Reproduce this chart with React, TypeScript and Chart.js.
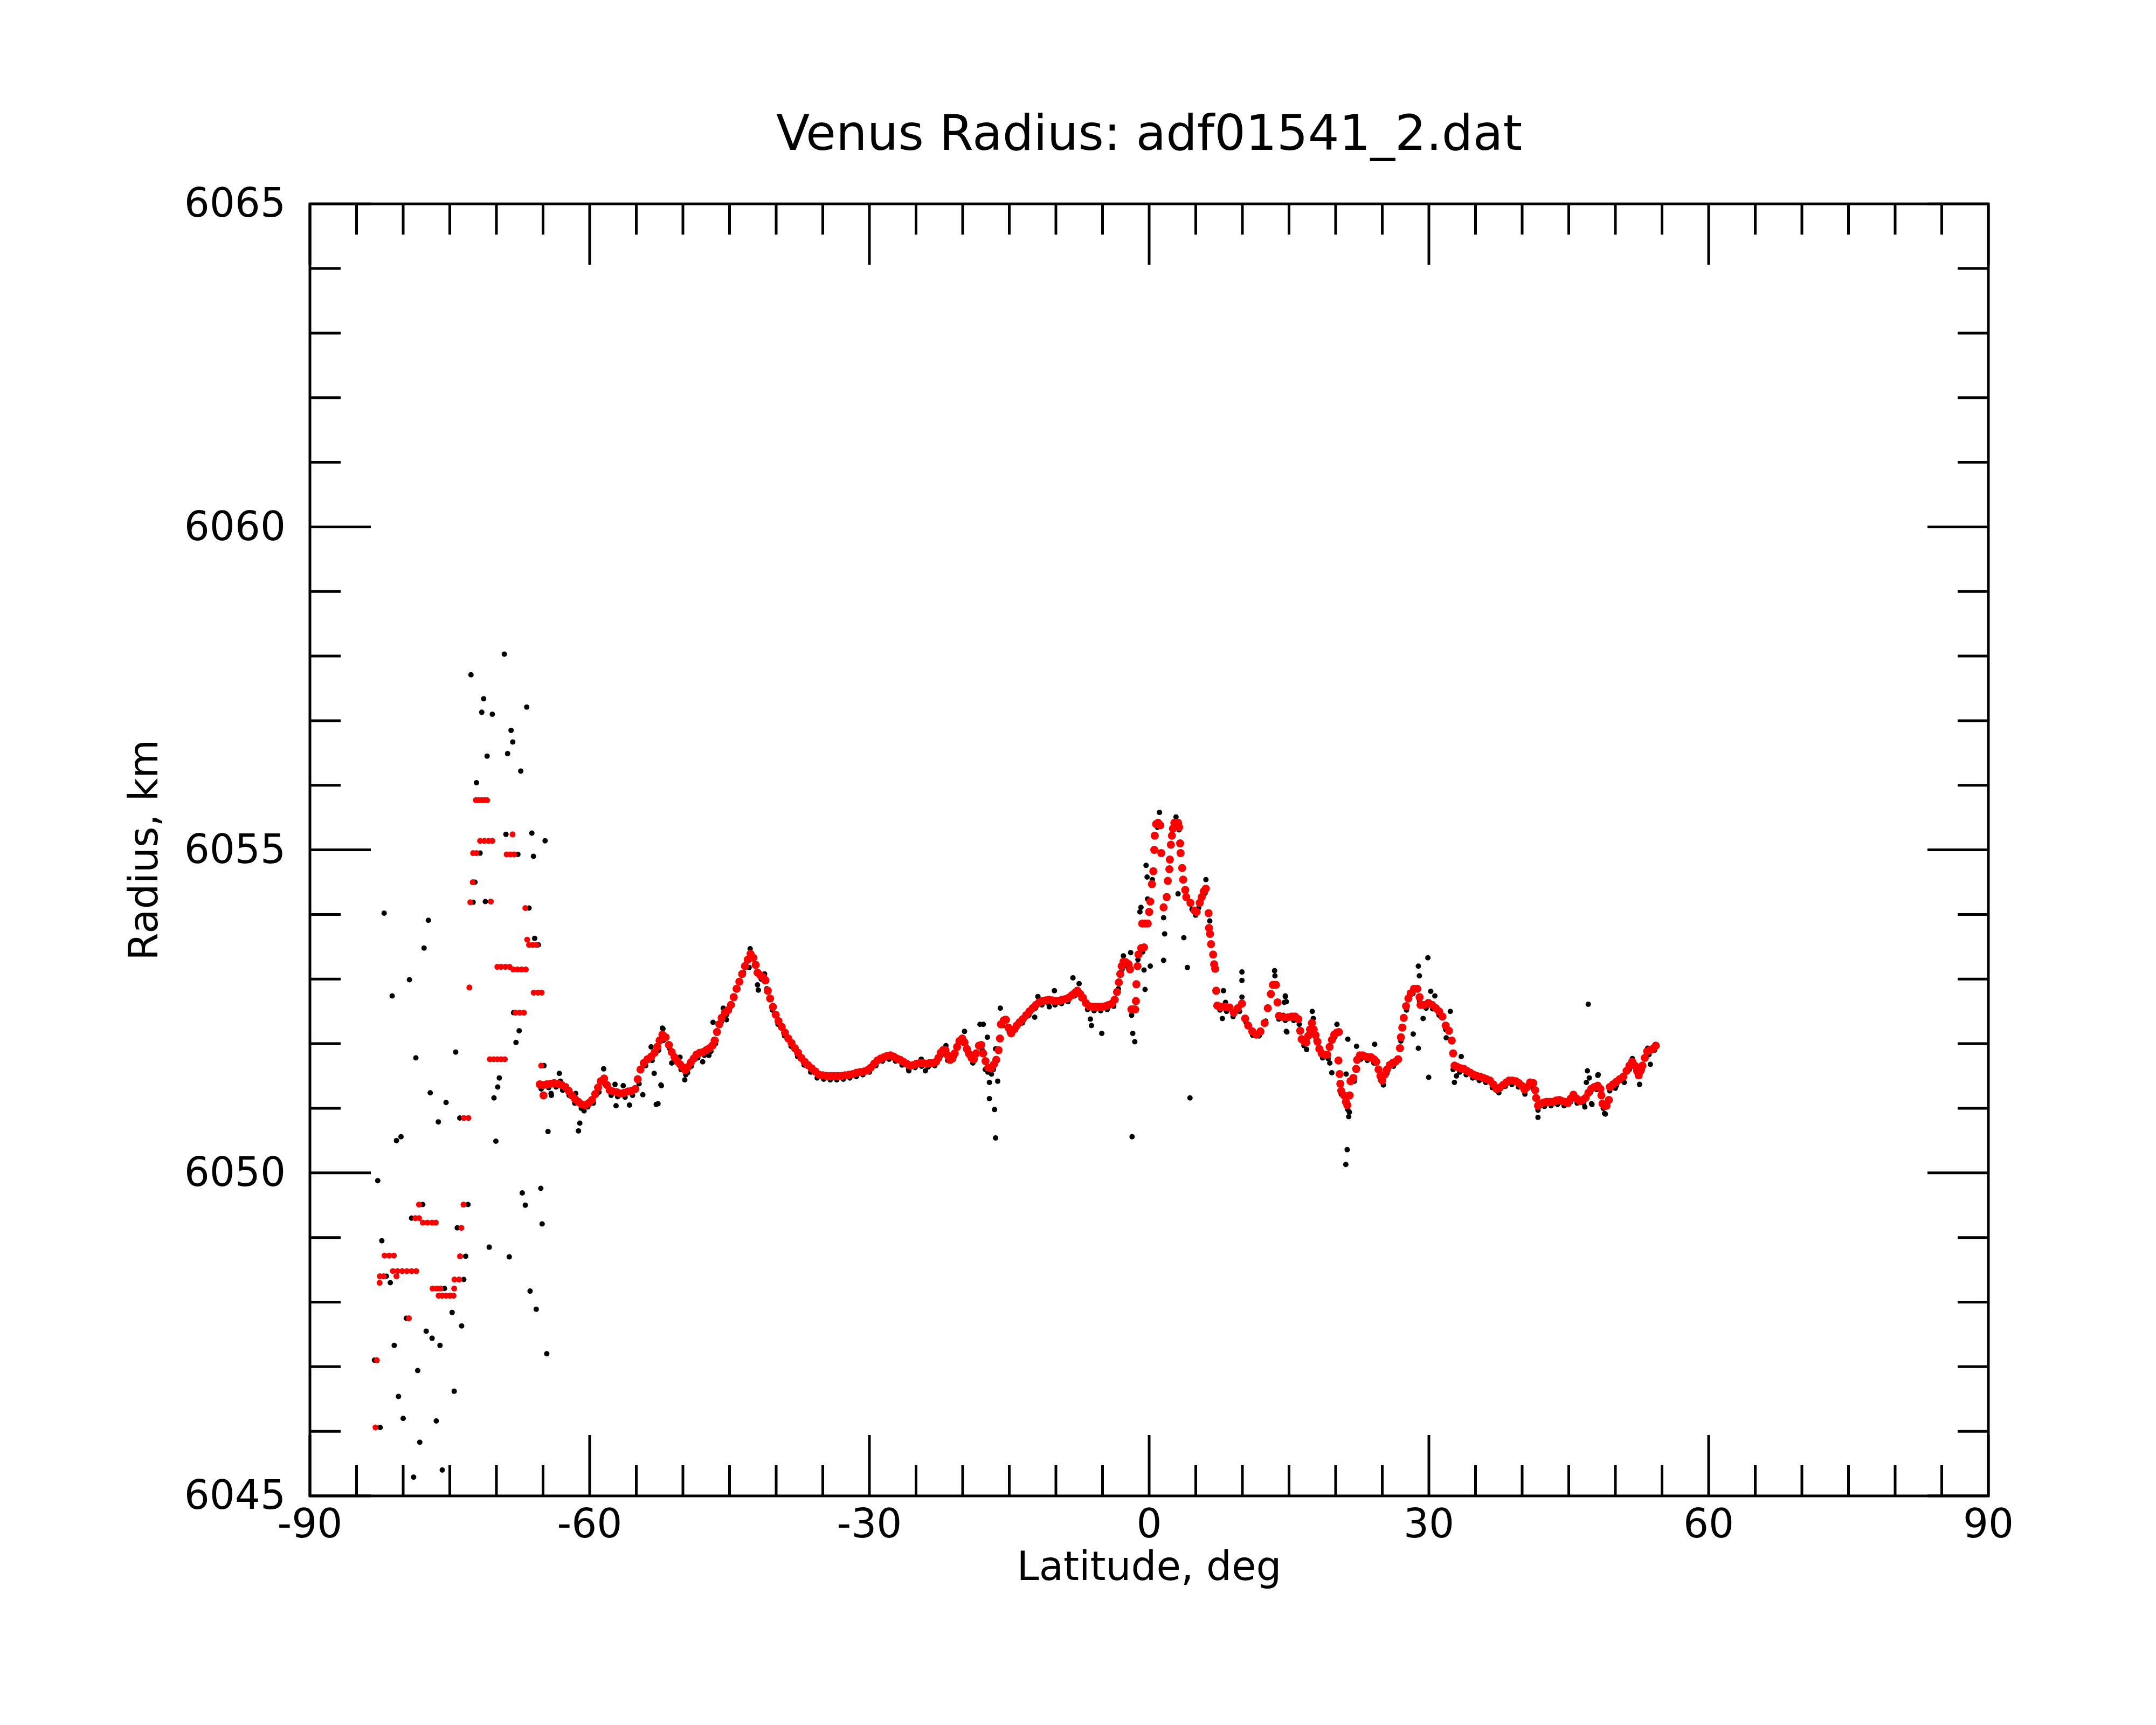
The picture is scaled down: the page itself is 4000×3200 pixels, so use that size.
import { useEffect, useRef } from "react";
import { Chart, registerables } from "chart.js";

Chart.register(...registerables);

const FONT = "DejaVu Sans";
const TITLE = "Venus Radius: adf01541_2.dat";
const X_LABEL = "Latitude, deg";
const Y_LABEL = "Radius, km";

const xTickValues = [-90, -60, -30, 0, 30, 60, 90];
const yTickValues = [6045, 6050, 6055, 6060, 6065];
const xMinorStep = 5;
const yMinorStep = 1;

// smoothed radius (red) — south polar scatter
const smoothPolar: [number, number][] = [
    [-72.2, 6055.77], [-71.9, 6055.77], [-71.6, 6055.77], [-71.3, 6055.77], [-71.0, 6055.77],
    [-68.27, 6055.24],
    [-71.75, 6055.14], [-71.3, 6055.14], [-70.85, 6055.14], [-70.45, 6055.14],
    [-72.5, 6054.95], [-72.15, 6054.95],
    [-68.9, 6054.93], [-68.5, 6054.93], [-68.1, 6054.93],
    [-72.54, 6054.5], [-72.8, 6054.19], [-70.6, 6054.2], [-66.9, 6054.1], [-66.7, 6053.61],
    [-66.5, 6053.53], [-66.1, 6053.53], [-65.7, 6053.53],
    [-69.9, 6053.19], [-69.5, 6053.19], [-69.05, 6053.19], [-68.6, 6053.19],
    [-68.2, 6053.15], [-67.75, 6053.15], [-67.3, 6053.15], [-66.85, 6053.15],
    [-72.9, 6052.87],
    [-66.0, 6052.79], [-65.55, 6052.79], [-65.15, 6052.79],
    [-67.95, 6052.48], [-67.5, 6052.48], [-67.05, 6052.48],
    [-70.7, 6051.76], [-70.3, 6051.76], [-69.9, 6051.76], [-69.5, 6051.76], [-69.1, 6051.76],
    [-65.2, 6051.66],
    [-73.5, 6050.85], [-73.0, 6050.85],
    [-78.3, 6049.51], [-73.53, 6049.51],
    [-78.7, 6049.3], [-78.3, 6049.3],
    [-77.9, 6049.23], [-77.4, 6049.23], [-76.9, 6049.23], [-76.5, 6049.23],
    [-73.76, 6049.15],
    [-82.0, 6048.72], [-81.5, 6048.72], [-81.0, 6048.72],
    [-73.9, 6048.71],
    [-81.1, 6048.48], [-80.6, 6048.48], [-80.1, 6048.48], [-79.6, 6048.48], [-79.1, 6048.48], [-78.6, 6048.48],
    [-82.5, 6048.4], [-82.1, 6048.4], [-80.72, 6048.4], [-82.53, 6048.3],
    [-74.5, 6048.35], [-74.0, 6048.35],
    [-76.85, 6048.21], [-76.4, 6048.21], [-76.0, 6048.21], [-74.53, 6048.21],
    [-76.2, 6048.1], [-75.8, 6048.1], [-75.4, 6048.1], [-75.0, 6048.1], [-74.6, 6048.1],
    [-79.39, 6047.75], [-82.82, 6047.1], [-82.97, 6046.06],
];

// smoothed radius (red) — southern mid latitudes
const smoothSouth: [number, number][] = [
    [-65.35, 6051.37], [-65.0, 6051.36], [-64.95, 6051.2], [-64.6, 6051.37], [-64.2, 6051.38], [-63.8, 6051.39],
    [-63.4, 6051.38], [-63.0, 6051.36], [-62.6, 6051.33], [-62.25, 6051.27], [-61.9, 6051.2],
    [-61.55, 6051.14], [-61.2, 6051.1], [-60.85, 6051.06], [-60.5, 6051.05], [-60.1, 6051.08],
    [-59.75, 6051.13], [-59.4, 6051.22], [-59.1, 6051.32], [-58.8, 6051.42], [-58.45, 6051.46],
    [-58.15, 6051.36], [-57.85, 6051.28], [-57.5, 6051.26], [-57.1, 6051.25], [-56.7, 6051.23],
    [-56.3, 6051.24], [-55.9, 6051.26], [-55.5, 6051.27], [-55.1, 6051.3], [-54.85, 6051.45],
    [-54.55, 6051.6], [-54.2, 6051.7], [-53.8, 6051.76], [-53.4, 6051.8], [-53.05, 6051.86],
    [-52.75, 6051.95], [-52.5, 6052.05], [-52.2, 6052.14], [-51.85, 6052.1], [-51.5, 6051.98],
    [-51.2, 6051.87], [-50.9, 6051.79], [-50.6, 6051.73], [-50.3, 6051.68], [-50.0, 6051.63],
    [-49.75, 6051.59], [-49.45, 6051.64], [-49.15, 6051.71], [-48.85, 6051.77], [-48.55, 6051.83],
    [-48.2, 6051.86], [-47.85, 6051.87], [-47.5, 6051.9], [-47.15, 6051.93], [-46.85, 6051.97],
    [-46.6, 6052.05], [-46.35, 6052.18], [-46.1, 6052.3], [-45.85, 6052.4], [-45.5, 6052.48],
    [-45.15, 6052.52], [-44.85, 6052.6], [-44.55, 6052.72], [-44.25, 6052.85], [-43.95, 6052.96],
    [-43.65, 6053.08], [-43.35, 6053.2], [-43.05, 6053.3], [-42.75, 6053.39], [-42.45, 6053.33],
    [-42.2, 6053.22], [-42.0, 6053.1], [-41.7, 6053.06], [-41.4, 6053.03], [-41.15, 6052.98],
    [-40.9, 6052.82], [-40.65, 6052.7], [-40.35, 6052.57], [-40.05, 6052.45], [-39.75, 6052.35],
    [-39.4, 6052.26], [-39.05, 6052.17], [-38.7, 6052.08], [-38.35, 6052.01], [-38.0, 6051.93],
    [-37.65, 6051.86], [-37.3, 6051.78], [-36.95, 6051.72], [-36.6, 6051.67], [-36.2, 6051.62],
    [-35.8, 6051.57], [-35.4, 6051.52], [-35.0, 6051.51], [-34.6, 6051.5], [-34.2, 6051.5],
    [-33.8, 6051.5], [-33.4, 6051.5], [-33.0, 6051.5], [-32.6, 6051.51], [-32.2, 6051.52],
    [-31.8, 6051.53], [-31.4, 6051.55], [-31.0, 6051.56], [-30.6, 6051.57], [-30.2, 6051.59],
    [-29.85, 6051.63], [-29.5, 6051.69], [-29.15, 6051.74], [-28.8, 6051.77], [-28.45, 6051.79],
    [-28.1, 6051.81], [-27.75, 6051.82], [-27.4, 6051.8], [-27.05, 6051.77], [-26.7, 6051.75],
    [-26.35, 6051.72], [-26.0, 6051.69], [-25.65, 6051.66], [-25.3, 6051.67], [-24.95, 6051.69],
    [-24.6, 6051.7], [-24.25, 6051.7], [-23.9, 6051.69], [-23.55, 6051.7], [-23.2, 6051.7],
    [-22.85, 6051.72], [-22.6, 6051.78], [-22.35, 6051.86], [-22.1, 6051.9], [-21.85, 6051.9],
    [-21.6, 6051.82], [-21.35, 6051.75], [-21.1, 6051.77], [-20.85, 6051.85], [-20.6, 6051.95],
    [-20.35, 6052.04], [-20.05, 6052.08], [-19.8, 6052.02], [-19.55, 6051.92], [-19.3, 6051.84],
    [-19.05, 6051.78], [-18.8, 6051.76], [-18.55, 6051.85], [-18.25, 6051.97],
];

// smoothed radius (red) — equatorial
const smoothEquator: [number, number][] = [
    [-18.0, 6051.98], [-17.8, 6051.85], [-17.55, 6051.73], [-17.25, 6051.63], [-16.95, 6051.62],
    [-16.65, 6051.68], [-16.4, 6051.75], [-16.15, 6051.9], [-16.0, 6052.08], [-15.9, 6052.3],
    [-15.6, 6052.36], [-15.35, 6052.37], [-15.1, 6052.25], [-14.8, 6052.16], [-14.5, 6052.22],
    [-14.2, 6052.28], [-13.9, 6052.33], [-13.55, 6052.38], [-13.2, 6052.44], [-12.85, 6052.5],
    [-12.5, 6052.55], [-12.15, 6052.6], [-11.8, 6052.64], [-11.45, 6052.66], [-11.1, 6052.67],
    [-10.75, 6052.68], [-10.4, 6052.67], [-10.05, 6052.66], [-9.7, 6052.66], [-9.35, 6052.68],
    [-9.0, 6052.69], [-8.65, 6052.71], [-8.3, 6052.75], [-7.95, 6052.79], [-7.7, 6052.82],
    [-7.4, 6052.77], [-7.1, 6052.71], [-6.8, 6052.63], [-6.45, 6052.58], [-6.1, 6052.57],
    [-5.75, 6052.57], [-5.4, 6052.57], [-5.05, 6052.57], [-4.7, 6052.58], [-4.35, 6052.6],
    [-4.0, 6052.62], [-3.7, 6052.68], [-3.45, 6052.8], [-3.25, 6052.95], [-3.1, 6053.08],
    [-2.95, 6053.2], [-2.75, 6053.27], [-2.5, 6053.26], [-2.2, 6053.23], [-2.05, 6053.15],
    [-1.9, 6052.53], [-1.7, 6052.53], [-1.5, 6052.53], [-1.42, 6052.66], [-1.37, 6052.92],
    [-1.25, 6053.2], [-1.15, 6053.38], [-0.85, 6053.48], [-0.55, 6053.49], [-0.75, 6053.86],
    [-0.45, 6053.86], [-0.15, 6053.86], [0.0, 6054.04], [0.12, 6054.2], [0.3, 6054.47],
    [0.45, 6054.67], [0.55, 6055.0], [0.6, 6055.22], [0.75, 6055.4], [0.95, 6055.42],
    [1.2, 6055.38], [1.3, 6054.95], [1.55, 6054.11], [1.88, 6054.27], [2.0, 6054.52],
    [2.17, 6054.7], [2.22, 6054.85], [2.33, 6055.08], [2.44, 6055.22], [2.55, 6055.33],
    [2.7, 6055.42], [2.9, 6055.42], [3.1, 6055.42], [3.21, 6055.35], [3.32, 6055.1],
    [3.37, 6054.95], [3.54, 6054.72], [3.65, 6054.54], [3.87, 6054.38], [3.98, 6054.27],
    [4.43, 6054.18], [4.87, 6054.06], [5.09, 6054.04], [5.42, 6054.18], [5.64, 6054.27],
    [5.86, 6054.36], [6.08, 6054.4], [6.37, 6054.02], [6.42, 6053.79], [6.53, 6053.7],
    [6.64, 6053.54], [6.86, 6053.38], [6.97, 6053.23], [7.08, 6053.16], [7.19, 6052.82],
    [7.3, 6052.59], [7.6, 6052.57], [7.9, 6052.57], [8.25, 6052.57], [8.63, 6052.56],
    [9.07, 6052.48], [9.5, 6052.55], [9.95, 6052.62], [10.29, 6052.39], [10.62, 6052.28],
    [11.06, 6052.19], [11.5, 6052.14], [11.94, 6052.19], [12.38, 6052.32], [12.72, 6052.55],
    [13.05, 6052.77], [13.27, 6052.91], [13.6, 6052.91], [13.76, 6052.64], [13.93, 6052.43],
    [14.38, 6052.41], [14.93, 6052.41],
];

// smoothed radius (red) — northern latitudes
const smoothNorth: [number, number][] = [
    [15.3, 6052.42], [15.65, 6052.42], [16.0, 6052.38], [16.2, 6052.2], [16.35, 6052.07],
    [16.6, 6052.04], [16.85, 6052.02], [17.05, 6052.12], [17.25, 6052.22], [17.45, 6052.32],
    [17.65, 6052.22], [17.85, 6052.13], [18.05, 6052.03], [18.25, 6051.92], [18.5, 6051.85],
    [18.8, 6051.83], [19.1, 6051.83], [19.35, 6051.95], [19.6, 6052.06], [19.85, 6052.14],
    [20.1, 6052.17], [20.35, 6052.18], [20.3, 6051.74], [20.43, 6051.53], [20.5, 6051.38],
    [20.6, 6051.27], [20.9, 6051.2], [21.1, 6051.1], [21.25, 6051.05], [21.5, 6051.2],
    [21.6, 6051.42], [21.9, 6051.47], [22.2, 6051.61], [22.3, 6051.75], [22.6, 6051.82],
    [22.9, 6051.82], [23.2, 6051.8], [23.5, 6051.79], [23.8, 6051.79], [24.1, 6051.76],
    [24.35, 6051.72], [24.6, 6051.6], [24.8, 6051.5], [25.0, 6051.43], [25.25, 6051.52],
    [25.5, 6051.6], [25.8, 6051.67], [26.1, 6051.7], [26.4, 6051.72], [26.7, 6051.76],
    [26.9, 6051.93], [27.0, 6052.1], [27.15, 6052.25], [27.3, 6052.4], [27.55, 6052.58],
    [27.8, 6052.7], [28.05, 6052.78], [28.4, 6052.85], [28.75, 6052.85], [29.0, 6052.72],
    [29.1, 6052.6], [29.5, 6052.6], [29.95, 6052.63], [30.35, 6052.6], [30.75, 6052.55],
    [31.1, 6052.5], [31.45, 6052.42], [31.8, 6052.28], [32.15, 6052.2], [32.45, 6052.05],
    [32.6, 6051.85], [32.75, 6051.66], [33.05, 6051.64], [33.4, 6051.62], [33.75, 6051.61],
    [34.1, 6051.58], [34.45, 6051.55], [34.8, 6051.52], [35.15, 6051.5], [35.5, 6051.49],
    [35.85, 6051.47], [36.2, 6051.45], [36.55, 6051.43], [36.9, 6051.37], [37.25, 6051.3],
    [37.6, 6051.32], [37.95, 6051.36], [38.3, 6051.4], [38.6, 6051.43], [38.95, 6051.43],
    [39.3, 6051.42], [39.65, 6051.39], [39.95, 6051.35], [40.25, 6051.29], [40.55, 6051.33],
    [40.85, 6051.4], [41.2, 6051.39], [41.4, 6051.28], [41.5, 6051.16], [41.7, 6051.04],
    [42.0, 6051.07], [42.3, 6051.09], [42.6, 6051.1], [42.95, 6051.1], [43.3, 6051.1],
    [43.65, 6051.12], [44.0, 6051.13], [44.3, 6051.11], [44.6, 6051.1], [44.9, 6051.08],
    [45.2, 6051.15], [45.5, 6051.21], [45.85, 6051.15], [46.2, 6051.11], [46.5, 6051.13],
    [46.8, 6051.16], [47.1, 6051.24], [47.4, 6051.3], [47.75, 6051.33], [48.1, 6051.35],
    [48.4, 6051.3], [48.5, 6051.2], [48.62, 6051.07], [48.85, 6051.04], [49.05, 6051.04],
    [49.3, 6051.13], [49.4, 6051.33], [49.75, 6051.37], [50.1, 6051.41], [50.45, 6051.45],
    [50.85, 6051.49], [51.2, 6051.58], [51.5, 6051.66], [51.8, 6051.72], [52.1, 6051.66],
    [52.35, 6051.57], [52.5, 6051.51], [52.7, 6051.58], [52.9, 6051.66], [53.15, 6051.78],
    [53.4, 6051.88], [53.7, 6051.9], [54.0, 6051.92], [54.33, 6051.97],
];

// raw radius (black) — south polar scatter
const rawPolar: [number, number][] = [
    [-69.15, 6058.03], [-72.73, 6057.71], [-71.37, 6057.34], [-71.57, 6057.13], [-70.44, 6057.1],
    [-66.75, 6057.21], [-68.43, 6056.85], [-68.25, 6056.67], [-71.0, 6056.45], [-68.8, 6056.49],
    [-67.39, 6056.22], [-72.14, 6056.04], [-68.98, 6055.24], [-66.2, 6055.26], [-64.78, 6055.14],
    [-70.4, 6055.14], [-71.75, 6054.95], [-67.7, 6054.93], [-66.03, 6054.9], [-72.3, 6054.5],
    [-72.5, 6054.19], [-71.19, 6054.2], [-66.5, 6054.1], [-82.04, 6054.02], [-77.3, 6053.91],
    [-65.9, 6053.63], [-65.5, 6053.53], [-77.76, 6053.48], [-79.33, 6052.99], [-81.18, 6052.74],
    [-68.16, 6052.48], [-67.56, 6052.2], [-67.9, 6052.02], [-74.37, 6051.87], [-78.64, 6051.78],
    [-64.9, 6051.66], [-69.69, 6051.47], [-69.86, 6051.33], [-77.1, 6051.24], [-70.26, 6051.16],
    [-75.4, 6051.09], [-73.93, 6050.85], [-76.23, 6050.79], [-80.72, 6050.5], [-80.23, 6050.56],
    [-70.06, 6050.49], [-64.47, 6050.64], [-82.73, 6049.88], [-67.23, 6049.69], [-65.24, 6049.76],
    [-66.9, 6049.5], [-77.9, 6049.51], [-73.05, 6049.51], [-79.1, 6049.3], [-76.5, 6049.23],
    [-65.1, 6049.21], [-74.2, 6049.15], [-82.29, 6048.95], [-70.77, 6048.85], [-68.62, 6048.7],
    [-73.3, 6048.71], [-81.8, 6048.4], [-81.38, 6048.3], [-73.5, 6048.35], [-75.57, 6048.21],
    [-74.9, 6048.1], [-66.39, 6048.17], [-65.73, 6047.89], [-74.75, 6047.84], [-73.73, 6047.63],
    [-79.66, 6047.75], [-77.53, 6047.55], [-76.9, 6047.44], [-80.96, 6047.33], [-76.05, 6047.33],
    [-64.6, 6047.2], [-83.08, 6047.1], [-78.44, 6046.94], [-74.53, 6046.62], [-80.5, 6046.54],
    [-80.0, 6046.2], [-76.45, 6046.16], [-82.47, 6046.06], [-78.22, 6045.83], [-75.81, 6045.4],
    [-78.88, 6045.29],
];

// raw radius (black) — southern mid latitudes
const rawSouth: [number, number][] = [
    [-65.2, 6051.3], [-64.4, 6051.32], [-63.6, 6051.33], [-62.9, 6051.28], [-62.2, 6051.2],
    [-61.6, 6051.08], [-60.9, 6051.0], [-60.2, 6051.02], [-59.6, 6051.08], [-59.0, 6051.25],
    [-58.4, 6051.38], [-57.7, 6051.2], [-57.0, 6051.18], [-56.2, 6051.17], [-55.4, 6051.2],
    [-54.7, 6051.38], [-54.0, 6051.66], [-53.3, 6051.74], [-52.6, 6051.9],
    [-63.25, 6051.54], [-58.5, 6051.61], [-64.14, 6051.23], [-61.5, 6051.23], [-57.28, 6051.37],
    [-56.4, 6051.35], [-54.3, 6051.21], [-53.08, 6051.54], [-52.31, 6051.35], [-53.41, 6051.95],
    [-52.2, 6052.24], [-63.14, 6051.42], [-57.17, 6051.04], [-55.73, 6051.05], [-52.86, 6051.06],
    [-60.6, 6050.96], [-61.2, 6050.65], [-61.06, 6050.77], [-64.1, 6051.2],
    [-52.1, 6052.05], [-51.4, 6051.92], [-50.8, 6051.72], [-50.2, 6051.6], [-49.7, 6051.52],
    [-49.1, 6051.65], [-48.4, 6051.78], [-47.7, 6051.82], [-47.0, 6051.88], [-46.5, 6052.0],
    [-45.9, 6052.33], [-45.3, 6052.45], [-44.7, 6052.6], [-44.1, 6052.85], [-43.5, 6053.1],
    [-42.9, 6053.32], [-42.3, 6053.22], [-41.6, 6053.0], [-41.0, 6052.85], [-40.4, 6052.52],
    [-39.8, 6052.3], [-39.1, 6052.12], [-38.4, 6051.96], [-37.7, 6051.8], [-37.0, 6051.67],
    [-36.3, 6051.56], [-35.6, 6051.47], [-34.9, 6051.45], [-34.2, 6051.44], [-33.5, 6051.44],
    [-32.8, 6051.45], [-32.1, 6051.47], [-31.4, 6051.49], [-30.7, 6051.52], [-30.0, 6051.56],
    [-29.3, 6051.66], [-28.6, 6051.73], [-27.9, 6051.76], [-27.2, 6051.73], [-26.5, 6051.67],
    [-25.8, 6051.6], [-25.1, 6051.63], [-24.4, 6051.65], [-23.7, 6051.64], [-23.0, 6051.66],
    [-22.3, 6051.82], [-21.6, 6051.74], [-20.9, 6051.8], [-20.2, 6052.02], [-19.5, 6051.87],
    [-18.9, 6051.7],
    [-52.14, 6052.23], [-52.36, 6051.36], [-52.67, 6051.07], [-49.8, 6051.44], [-50.31, 6051.79],
    [-47.88, 6051.72], [-47.21, 6051.82], [-46.77, 6052.33], [-46.44, 6052.05], [-45.67, 6052.55],
    [-45.33, 6052.37], [-42.79, 6053.47], [-42.9, 6053.18], [-41.91, 6052.83], [-42.0, 6052.91],
    [-41.24, 6053.08], [-25.77, 6051.58], [-24.0, 6051.58], [-24.44, 6051.76], [-19.8, 6052.19],
    [-21.79, 6051.97], [-18.14, 6052.3], [-51.2, 6051.7], [-49.5, 6051.55],
];

// raw radius (black) — equatorial
const rawEquator: [number, number][] = [
    [-17.9, 6051.9], [-17.3, 6051.56], [-16.7, 6051.6], [-15.7, 6052.28], [-15.0, 6052.18],
    [-14.3, 6052.22], [-13.6, 6052.32], [-12.9, 6052.44], [-12.2, 6052.55], [-11.5, 6052.6],
    [-10.8, 6052.62], [-10.1, 6052.6], [-9.4, 6052.62], [-8.7, 6052.65], [-8.0, 6052.74],
    [-7.3, 6052.7], [-6.6, 6052.53], [-5.9, 6052.51], [-5.2, 6052.51], [-4.5, 6052.53],
    [-3.8, 6052.58], [-3.3, 6052.85], [-2.9, 6053.15], [-2.4, 6053.2], [-1.2, 6053.3],
    [-0.7, 6053.42], [0.9, 6055.35], [2.8, 6055.36], [4.6, 6054.08], [5.3, 6054.1],
    [6.0, 6054.33], [6.5, 6053.9], [7.6, 6052.52], [8.3, 6052.5], [9.0, 6052.42],
    [9.7, 6052.5], [10.4, 6052.33], [11.1, 6052.13], [11.8, 6052.12], [12.5, 6052.35],
    [13.1, 6052.75], [13.9, 6052.38], [14.6, 6052.36],
    [-17.79, 6052.3], [-17.35, 6052.1], [-17.57, 6051.6], [-17.13, 6051.4], [-16.91, 6051.53],
    [-17.13, 6051.15], [-16.58, 6050.98], [-16.47, 6050.54], [-16.24, 6051.42], [-16.47, 6051.92],
    [-15.96, 6052.55], [-15.47, 6052.39], [-12.27, 6052.41], [-11.93, 6052.73], [-10.71, 6052.57],
    [-10.16, 6052.82], [-8.17, 6053.02], [-7.51, 6052.93], [-6.3, 6052.38], [-6.19, 6052.28],
    [-5.08, 6052.16], [-2.76, 6053.36], [-1.98, 6053.41], [-1.88, 6052.44], [-1.76, 6052.16],
    [-1.54, 6052.03], [-1.83, 6050.56], [-0.99, 6054.04], [-0.88, 6054.11], [-0.55, 6053.14],
    [-0.44, 6052.84], [0.12, 6053.2], [-0.33, 6054.76], [-0.22, 6054.58], [-0.17, 6054.24],
    [0.34, 6054.54], [1.11, 6055.58], [1.55, 6053.95], [1.66, 6053.7], [1.55, 6053.29],
    [2.88, 6055.51], [3.21, 6055.31], [3.1, 6054.32], [3.72, 6053.64], [4.1, 6053.18],
    [4.38, 6051.16], [6.09, 6054.54], [4.98, 6053.99], [7.97, 6052.82], [7.85, 6052.39],
    [8.19, 6052.64], [9.95, 6053.11], [9.95, 6052.98], [9.95, 6052.72], [13.45, 6053.13],
    [13.49, 6053.05], [14.6, 6052.74], [14.49, 6052.64], [14.71, 6052.19], [14.38, 6052.44],
];

// raw radius (black) — northern latitudes
const rawNorth: [number, number][] = [
    [15.5, 6052.36], [16.1, 6052.3], [16.6, 6051.97], [17.3, 6052.16], [17.9, 6052.05],
    [18.6, 6051.78], [19.2, 6051.77], [19.9, 6052.1], [20.6, 6051.22], [21.3, 6050.98],
    [22.0, 6051.42], [22.7, 6051.76], [23.4, 6051.74], [24.1, 6051.7], [24.8, 6051.44],
    [25.5, 6051.54], [26.2, 6051.65], [27.0, 6052.04], [27.6, 6052.52], [28.3, 6052.78],
    [29.0, 6052.66], [29.7, 6052.55], [30.4, 6052.54], [31.1, 6052.44], [31.8, 6052.22],
    [32.6, 6051.6], [33.3, 6051.56], [34.0, 6051.52], [34.7, 6051.47], [35.4, 6051.43],
    [36.1, 6051.4], [36.8, 6051.32], [37.5, 6051.24], [38.2, 6051.34], [38.9, 6051.37],
    [39.6, 6051.33], [40.3, 6051.22], [41.0, 6051.33], [41.7, 6050.97], [42.4, 6051.03],
    [43.1, 6051.04], [43.8, 6051.06], [44.5, 6051.04], [45.2, 6051.1], [45.9, 6051.08],
    [46.6, 6051.08], [47.3, 6051.24], [48.0, 6051.29], [48.7, 6051.0], [49.4, 6051.27],
    [50.1, 6051.35], [50.8, 6051.43], [51.5, 6051.6], [52.2, 6051.58], [52.9, 6051.6],
    [53.6, 6051.83], [54.2, 6051.9],
    [14.61, 6052.73], [14.72, 6052.65], [14.77, 6052.18], [17.49, 6052.5], [17.6, 6052.39],
    [16.89, 6051.91], [19.37, 6051.7], [19.59, 6051.55], [20.14, 6052.3], [21.31, 6052.07],
    [21.24, 6050.36], [21.09, 6050.13], [21.47, 6050.94], [21.4, 6050.87], [21.13, 6051.53],
    [22.24, 6051.96], [24.19, 6051.99], [25.12, 6051.36], [26.22, 6051.69], [28.32, 6052.15],
    [28.87, 6051.93], [29.98, 6051.48], [28.87, 6053.2], [29.89, 6053.33], [28.98, 6053.05],
    [29.38, 6052.39], [30.2, 6052.81], [30.64, 6052.74], [32.3, 6052.5], [31.86, 6052.09],
    [32.74, 6051.4], [32.96, 6051.5], [33.47, 6051.8], [47.09, 6052.61], [41.7, 6050.86],
    [47.0, 6051.58], [46.89, 6051.4], [47.44, 6051.07], [48.11, 6051.51], [48.84, 6050.92],
    [47.2, 6051.47], [48.16, 6051.52], [47.49, 6051.06], [46.72, 6051.02], [48.93, 6050.91],
    [49.99, 6051.31], [50.95, 6051.4], [51.82, 6051.77], [52.59, 6051.37], [53.75, 6051.68],
    [53.46, 6051.93],
];

const toPoints = (rows: [number, number][]) => rows.map(([x, y]) => ({ x, y }));

// frame with inward major/minor ticks on all four sides
const framePlugin = {
    id: "frameTicks",
    afterDraw(chart: Chart) {
        const { ctx, chartArea } = chart;
        const { left, right, top, bottom } = chartArea;
        const xs = chart.scales.x;
        const ys = chart.scales.y;
        const major = 113;
        const minor = 57;
        ctx.save();
        ctx.strokeStyle = "#000";
        ctx.lineWidth = 5;
        ctx.lineCap = "butt";
        ctx.strokeRect(left, top, right - left, bottom - top);
        ctx.beginPath();
        for (let v = xs.min; v <= xs.max + 1e-6; v += xMinorStep) {
            const px = xs.getPixelForValue(v);
            const len = xTickValues.includes(v) ? major : minor;
            ctx.moveTo(px, bottom);
            ctx.lineTo(px, bottom - len);
            ctx.moveTo(px, top);
            ctx.lineTo(px, top + len);
        }
        for (let v = ys.min; v <= ys.max + 1e-6; v += yMinorStep) {
            const py = ys.getPixelForValue(v);
            const len = yTickValues.includes(v) ? major : minor;
            ctx.moveTo(left, py);
            ctx.lineTo(left + len, py);
            ctx.moveTo(right, py);
            ctx.lineTo(right - len, py);
        }
        ctx.stroke();
        ctx.restore();
    },
};

const VenusRadiusChart = () => {
    const canvasRef = useRef<HTMLCanvasElement>(null);
    const chartRef = useRef<Chart | null>(null);

    useEffect(() => {
        if (!canvasRef.current) return;
        const smoothBand = [
            ...toPoints(smoothSouth),
            ...toPoints(smoothEquator),
            ...toPoints(smoothNorth),
        ];
        const raw = [
            ...toPoints(rawPolar),
            ...toPoints(rawSouth),
            ...toPoints(rawEquator),
            ...toPoints(rawNorth),
        ];

        const config = {
            type: "scatter",
            data: {
                datasets: [
                    {
                        label: "smoothed",
                        data: smoothBand,
                        backgroundColor: "#ff0000",
                        borderWidth: 0,
                        pointRadius: 7.5,
                        order: 0,
                    },
                    {
                        label: "smoothed (polar)",
                        data: toPoints(smoothPolar),
                        backgroundColor: "#ff0000",
                        borderWidth: 0,
                        pointRadius: 5.5,
                        order: 0,
                    },
                    {
                        label: "raw",
                        data: raw,
                        backgroundColor: "#000000",
                        borderWidth: 0,
                        pointRadius: 5,
                        order: 1,
                    },
                ],
            },
            options: {
                responsive: false,
                animation: false,
                devicePixelRatio: 1,
                layout: { padding: { top: 200, right: 311, bottom: 0, left: 0 } },
                plugins: {
                    legend: { display: false },
                    tooltip: { enabled: false },
                    title: {
                        display: true,
                        fullSize: false,
                        text: TITLE,
                        color: "#000",
                        font: { family: FONT, size: 91, weight: "normal" },
                        padding: { top: 0, bottom: 69 },
                    },
                },
                scales: {
                    x: {
                        type: "linear",
                        position: "bottom",
                        min: -90,
                        max: 90,
                        afterBuildTicks: (scale: any) => {
                            scale.ticks = xTickValues.map((value) => ({ value }));
                        },
                        afterFit: (scale: any) => {
                            scale.height = 425;
                        },
                        grid: { display: false, drawTicks: false, tickLength: 0 },
                        border: { display: false },
                        ticks: {
                            autoSkip: false,
                            maxRotation: 0,
                            padding: 13,
                            color: "#000",
                            font: { family: FONT, size: 74 },
                            callback: (v: number | string) => String(v),
                        },
                        title: {
                            display: true,
                            text: X_LABEL,
                            color: "#000",
                            font: { family: FONT, size: 74 },
                            padding: { top: 0, bottom: 244 },
                        },
                    },
                    y: {
                        type: "linear",
                        position: "left",
                        min: 6045,
                        max: 6065,
                        afterBuildTicks: (scale: any) => {
                            scale.ticks = yTickValues.map((value) => ({ value }));
                        },
                        afterFit: (scale: any) => {
                            scale.width = 575;
                        },
                        grid: { display: false, drawTicks: false, tickLength: 0 },
                        border: { display: false },
                        ticks: {
                            autoSkip: false,
                            padding: 45,
                            labelOffset: 5,
                            color: "#000",
                            font: { family: FONT, size: 74 },
                            callback: (v: number | string) => String(v),
                        },
                        title: {
                            display: true,
                            text: Y_LABEL,
                            color: "#000",
                            font: { family: FONT, size: 74 },
                            padding: { top: 228, bottom: 0 },
                        },
                    },
                },
            },
            plugins: [framePlugin],
        };

        if (chartRef.current) chartRef.current.destroy();
        chartRef.current = new Chart(canvasRef.current, config as any);

        return () => {
            if (chartRef.current) {
                chartRef.current.destroy();
                chartRef.current = null;
            }
        };
    }, []);

    return <canvas ref={canvasRef} width={4000} height={3200} />;
};

export default function App() {
    return (
        <div
            style={{
                position: "absolute",
                left: 0,
                top: 0,
                width: 4000,
                height: 3200,
                background: "#fff",
            }}
        >
            <VenusRadiusChart />
        </div>
    );
}
